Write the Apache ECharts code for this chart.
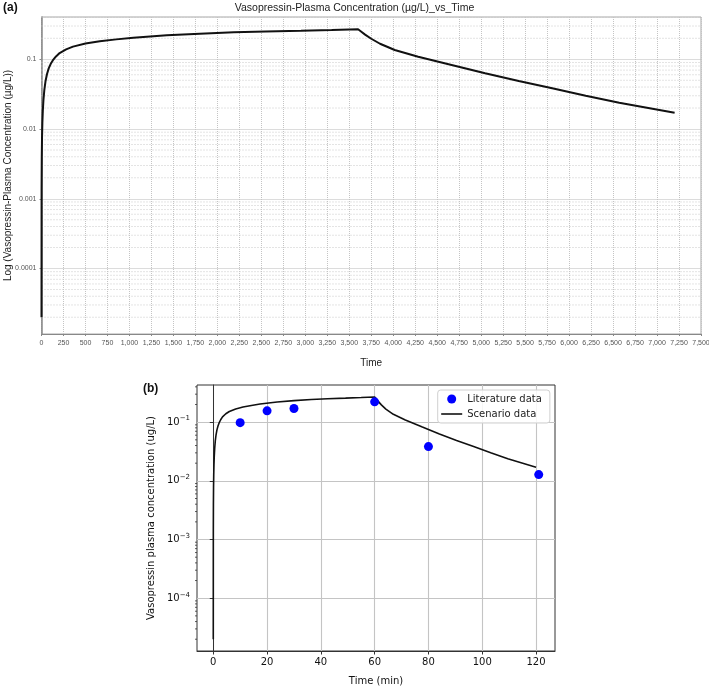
<!DOCTYPE html>
<html><head><meta charset="utf-8">
<script src="https://cdn.jsdelivr.net/npm/echarts@6/dist/echarts.min.js"></script>
<style>html,body{margin:0;padding:0;background:#fff}#c{width:709px;height:687px}</style>
</head><body><div id="c"></div>
<script>
// ---- Data ----
// Simulated scenario curve: time in seconds (panel a) and plasma concentration (µg/L)
const scenarioTimeSec = [0, 1, 3, 6, 10, 15, 22, 32, 45, 62, 82, 105, 130, 165, 206, 280, 358, 500, 663, 850, 1044, 1425, 1800, 2187, 2550, 2950, 3300, 3600,
  3630, 3680, 3750, 3850, 4017, 4284, 4664, 5045, 5427, 5808, 6189, 6570, 7200];
const scenarioConc = [2e-5, 0.0013, 0.0039, 0.0076, 0.0124, 0.0182, 0.026, 0.036, 0.048, 0.061, 0.074, 0.086, 0.097, 0.110, 0.123, 0.139, 0.152, 0.168, 0.181, 0.193, 0.204, 0.221, 0.233, 0.244, 0.251, 0.257, 0.263, 0.269,
  0.252, 0.226, 0.197, 0.167, 0.136, 0.109, 0.0828, 0.0629, 0.0489, 0.0384, 0.0301, 0.0238, 0.0171];
// Literature data (panel b): time in minutes, concentration (ug/L)
const literatureTimeMin = [10, 20, 30, 60, 80, 121];
const literatureConc = [0.098, 0.156, 0.171, 0.222, 0.0384, 0.0128];

// Tick values / labels
const yDecadeTicks = [0.0001, 0.001, 0.01, 0.1];
const yDecadeLabelsA = ['0.0001', '0.001', '0.01', '0.1'];
const yDecadeExpB = ['\u22124', '\u22123', '\u22122', '\u22121'];
const xTicksB = [0, 20, 40, 60, 80, 100, 120];
const minorMultipliers = [2, 3, 4, 5, 6, 7, 8, 9];
const minorDecades = [1e-5, 1e-4, 1e-3, 1e-2, 1e-1];

// ---- Derived ----
const SEC_PER_MIN = 60;
const curveA = scenarioTimeSec.map((t, i) => [t, scenarioConc[i]]);
const curveB = scenarioTimeSec.map((t, i) => [t / SEC_PER_MIN, scenarioConc[i]]);
const litB = literatureTimeMin.map((t, i) => [t, literatureConc[i]]);

const xMinA = 0, xMaxA = 7500;
const yMinA = 1.15e-5, yMaxA = 0.404;
const yMinB = 1.26e-5, yMaxB = 0.43;
const xMinB = -6.05, xMaxB = 127.05;

const minorA = [], minorB = [];
minorDecades.forEach(d => minorMultipliers.forEach(m => {
  const v = +(m * d).toPrecision(6);
  if (v > yMinA && v < yMaxA) minorA.push(v);
  if (v > yMinB && v < yMaxB) minorB.push(v);
}));

function idxOfLog(v, arr) {
  for (let i = 0; i < arr.length; i++) if (Math.abs(Math.log10(v) - Math.log10(arr[i])) < 1e-6) return i;
  return -1;
}

const FA = 'Liberation Sans, Arial, sans-serif';
const FB = 'DejaVu Sans, sans-serif';

const chart = echarts.init(document.getElementById('c'), null, {renderer: 'canvas'});
chart.setOption({
  animation: false,
  backgroundColor: '#fff',
  title: {
    text: 'Vasopressin-Plasma Concentration (\u00b5g/L)_vs_Time',
    left: 'center', top: 3, padding: 0,
    textStyle: {fontSize: 10.5, fontWeight: 'normal', color: '#222', fontFamily: FA}
  },
  graphic: [
    {type: 'text', left: 3, top: 2, style: {text: '(a)', font: 'bold 12px Liberation Sans, Arial, sans-serif', fill: '#111'}},
    {type: 'text', left: 143, top: 383, style: {text: '(b)', font: 'bold 12px Liberation Sans, Arial, sans-serif', fill: '#111'}}
  ],
  legend: {
    orient: 'vertical', left: 437.7, top: 390,
    padding: [3, 8, 3, 3.5], itemGap: 3, itemWidth: 21, itemHeight: 9,
    selectedMode: false,
    backgroundColor: 'rgba(255,255,255,0.85)', borderColor: '#d0d0d0', borderWidth: 1, borderRadius: 3,
    textStyle: {fontSize: 10, fontFamily: FB, color: '#222', lineHeight: 12},
    data: [
      {name: 'Literature data', icon: 'circle'},
      {name: 'Scenario data', icon: 'path://M0,0 L21,0 L21,1.6 L0,1.6 Z', itemStyle: {color: '#111'}}
    ]
  },
  grid: [
    {left: 41.5, top: 17, width: 659.5, height: 317, show: true, borderColor: '#a8a8a8', borderWidth: 1, outerBoundsMode: 'none'},
    {left: 197, top: 385, width: 358, height: 266, show: true, borderColor: '#333', borderWidth: 1, outerBoundsMode: 'none'}
  ],
  xAxis: [
    {
      type: 'value', gridIndex: 0, min: xMinA, max: xMaxA, interval: 250,
      name: 'Time', nameLocation: 'middle', nameGap: 24, nameMoveOverlap: false,
      nameTextStyle: {fontSize: 10, color: '#222', fontFamily: FA},
      axisLine: {show: true, onZero: false, lineStyle: {color: '#888', width: 1}},
      axisTick: {show: true, length: 2, lineStyle: {color: '#888'}},
      axisLabel: {fontSize: 7, color: '#555', fontFamily: FA, margin: 6,
        formatter: v => Math.round(v).toLocaleString('en-US')},
      splitLine: {show: true, lineStyle: {type: 'dotted', color: '#c4c4c4', width: 1}}
    },
    {
      type: 'value', gridIndex: 1, min: xMinB, max: xMaxB,
      name: 'Time (min)', nameLocation: 'middle', nameGap: 25, nameMoveOverlap: false,
      nameTextStyle: {fontSize: 10, color: '#111', fontFamily: FB},
      axisLine: {show: true, onZero: false, lineStyle: {color: '#333', width: 1}},
      axisTick: {show: true, length: 3.5, customValues: xTicksB, lineStyle: {color: '#333'}},
      axisLabel: {fontSize: 10, color: '#111', fontFamily: FB, margin: 6, customValues: xTicksB},
      splitLine: {show: true, lineStyle: {color: '#c4c4c4', width: 1.1}}
    }
  ],
  yAxis: [
    {
      type: 'log', logBase: 10, gridIndex: 0, min: yMinA, max: yMaxA,
      name: 'Log (Vasopressin-Plasma Concentration (\u00b5g/L))', nameLocation: 'middle', nameGap: 28.5, nameMoveOverlap: false,
      nameTextStyle: {fontSize: 10, color: '#222', fontFamily: FA},
      axisLine: {show: true, lineStyle: {color: '#888', width: 1.5}},
      axisTick: {show: true, length: 2, customValues: yDecadeTicks, lineStyle: {color: '#888'}},
      axisLabel: {fontSize: 7, color: '#555', fontFamily: FA, margin: 5, customValues: yDecadeTicks,
        formatter: v => { const i = idxOfLog(v, yDecadeTicks); return i >= 0 ? yDecadeLabelsA[i] : ''; }},
      splitLine: {show: true, lineStyle: {type: 'dotted', color: '#b8b8b8', width: 1}}
    },
    {
      type: 'log', logBase: 10, gridIndex: 1, min: yMinB, max: yMaxB,
      name: 'Vasopressin plasma concentration (ug/L)', nameLocation: 'middle', nameGap: 41, nameMoveOverlap: false,
      nameTextStyle: {fontSize: 10, color: '#111', fontFamily: FB},
      axisLine: {show: true, lineStyle: {color: '#333', width: 1}},
      axisTick: {show: true, length: 3.5, customValues: yDecadeTicks, lineStyle: {color: '#333'}},
      axisLabel: {margin: 7, customValues: yDecadeTicks,
        formatter: v => { const i = idxOfLog(v, yDecadeTicks); return i >= 0 ? '{b|10}{s|' + yDecadeExpB[i] + '}' : ''; },
        rich: {
          b: {fontSize: 10, fontFamily: FB, color: '#111', lineHeight: 14},
          s: {fontSize: 7, fontFamily: FB, color: '#111', lineHeight: 7, verticalAlign: 'top'}
        }},
      splitLine: {show: true, lineStyle: {color: '#c4c4c4', width: 1.1}}
    }
  ],
  series: [
    {
      type: 'custom', xAxisIndex: 0, yAxisIndex: 0, silent: true, z: 1,
      data: minorA.map(v => [xMinA, v]),
      renderItem: (params, api) => {
        const p1 = api.coord([xMinA, api.value(1)]);
        const p2 = api.coord([xMaxA, api.value(1)]);
        return {type: 'line', shape: {x1: p1[0], y1: p1[1], x2: p2[0], y2: p2[1]},
          style: {stroke: '#c8c8c8', lineWidth: 1, lineDash: [1, 2]}};
      }
    },
    {
      type: 'line', xAxisIndex: 0, yAxisIndex: 0, data: curveA, symbol: 'none',
      lineStyle: {color: '#111', width: 2}, itemStyle: {color: '#111'}, z: 3
    },
    {
      type: 'line', name: 'Scenario data', xAxisIndex: 1, yAxisIndex: 1, data: curveB, symbol: 'none',
      lineStyle: {color: '#111', width: 1.6}, itemStyle: {color: '#111'}, z: 3
    },
    {
      type: 'scatter', name: 'Literature data', xAxisIndex: 1, yAxisIndex: 1, data: litB,
      symbol: 'circle', symbolSize: 9, itemStyle: {color: '#0000ff', opacity: 1}, z: 4
    },
    {
      type: 'custom', xAxisIndex: 1, yAxisIndex: 1, silent: true, z: 5,
      data: minorB.map(v => [xMinB, v]),
      renderItem: (params, api) => {
        const p = api.coord([api.value(0), api.value(1)]);
        return {type: 'line', shape: {x1: p[0] - 2, y1: p[1], x2: p[0], y2: p[1]},
          style: {stroke: '#333', lineWidth: 0.8}};
      }
    }
  ]
});
</script>
</body></html>
